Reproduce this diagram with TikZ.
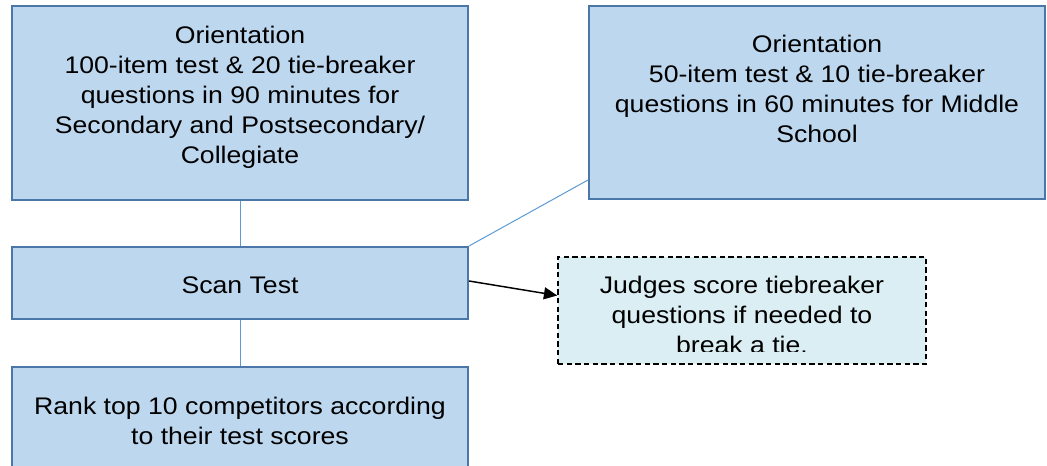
\documentclass[tikz,border=0pt]{standalone}
\usepackage{fontspec}
\setmainfont{Liberation Sans}[FakeStretch=1.11]
\usetikzlibrary{arrows.meta}
\definecolor{boxfill}{HTML}{BDD7EE}
\definecolor{boxline}{HTML}{4A76A8}
\definecolor{linkline}{HTML}{5B9BD5}
\definecolor{notefill}{HTML}{DAEEF3}
\tikzset{
  box/.style={draw=boxline, fill=boxfill, line width=1.5pt, rectangle, inner sep=0pt},
  notebox/.style={draw=black, fill=notefill, line width=1.1pt, dash pattern=on 4pt off 2.5pt, rectangle, inner sep=0pt},
  txt/.style={align=center, inner sep=0pt, font=\fontsize{18}{22.5}\selectfont},
  link/.style={draw=linkline, line width=0.75pt},
  arr/.style={draw=black, line width=1.1pt, -{Triangle[length=10pt,width=9pt]}}
}
\begin{document}
\begin{tikzpicture}[x=0.75pt,y=-0.75pt]
\useasboundingbox (0,0) rectangle (1047,466);
\clip (0,0) rectangle (1047,466);
% boxes
\node[box, minimum width=456*0.75pt, minimum height=194*0.75pt] (o1) at (240,103) {};
\node[box, minimum width=456*0.75pt, minimum height=193*0.75pt] (o2) at (817,102.5) {};
\node[box, minimum width=456*0.75pt, minimum height=72*0.75pt] (scan) at (240,283) {};
\node[box, minimum width=456*0.75pt, minimum height=120*0.75pt] (rank) at (240,427) {};
\node[notebox, minimum width=368*0.75pt, minimum height=107*0.75pt] (judge) at (742,310.5) {};
% texts
\node[txt] (t1) at (240,97) {Orientation\\100-item test \& 20 tie-breaker\\questions in 90 minutes for\\Secondary and Postsecondary/\\Collegiate};
\node[txt] (t2) at (817,89) {Orientation\\50-item test \& 10 tie-breaker\\questions in 60 minutes for Middle\\School};
\node[txt] (t3) at (240,285) {Scan Test};
\node[txt] (t4) at (240,421) {Rank top 10 competitors according\\to their test scores};
\begin{scope}
\clip (560,259) rectangle (924,352);
\node[txt] (t5) at (742,315) {Judges score tiebreaker\\questions if needed to\\break a tie.};
\end{scope}
% connectors
\draw[link] (o1.south) -- (scan.north);
\draw[link] (scan.south) -- (rank.north);
\draw[link] (scan.north east) -- ([yshift=20*0.75pt]o2.south west);
\draw[arr] ([yshift=2*0.75pt]scan.east) -- ([yshift=15*0.75pt]judge.west);
\end{tikzpicture}
\end{document}
